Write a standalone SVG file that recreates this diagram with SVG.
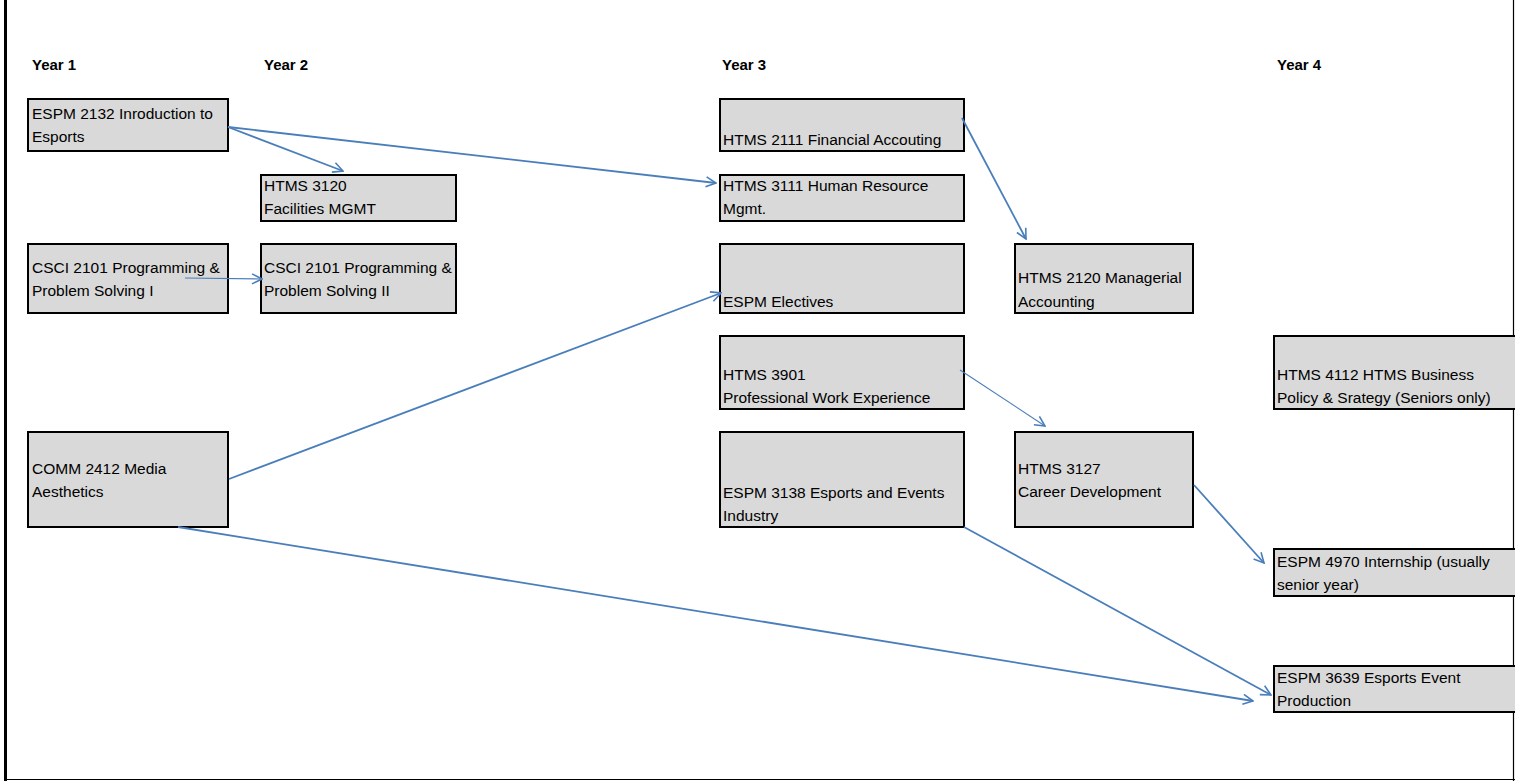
<svg xmlns="http://www.w3.org/2000/svg" width="1515" height="781" viewBox="0 0 1515 781">
<style>
.box{fill:#d9d9d9;stroke:#000;stroke-width:2}
.t{font-family:"Liberation Sans",Arial,sans-serif;font-size:15.5px;fill:#000}
.yr{font-family:"Liberation Sans",Arial,sans-serif;font-size:15px;font-weight:bold;fill:#000}
.c{fill:none;stroke:#4a7ebb;stroke-width:1.8;marker-end:url(#ah)}
.thin{stroke-width:1.1}
</style>
<defs>
<marker id="ah" viewBox="0 0 12 12" refX="11" refY="6" markerWidth="12" markerHeight="12" markerUnits="userSpaceOnUse" orient="auto">
<path d="M1,1 L11,6 L1,11" fill="none" stroke="#4a7ebb" stroke-width="1.6"/>
</marker>
</defs>
<rect x="0" y="0" width="1515" height="781" fill="#fff"/>
<g id="frame">
<line x1="5.5" y1="0" x2="5.5" y2="781" stroke="#000" stroke-width="3"/>
<line x1="4" y1="779.5" x2="1515" y2="779.5" stroke="#000" stroke-width="1.2"/>
<line x1="1513.5" y1="0" x2="1513.5" y2="781" stroke="#000" stroke-width="1.2"/>
</g>
<g id="years">
<text class="yr" x="32" y="70">Year 1</text>
<text class="yr" x="264" y="70">Year 2</text>
<text class="yr" x="722" y="70">Year 3</text>
<text class="yr" x="1277" y="70">Year 4</text>
</g>
<g id="espm2132"><rect class="box" x="28" y="99" width="200" height="52"/><text class="t" x="32" y="119">ESPM 2132 Inroduction to</text><text class="t" x="32" y="142">Esports</text></g>
<g id="htms3120"><rect class="box" x="261" y="175" width="195" height="46"/><text class="t" x="264" y="191">HTMS 3120</text><text class="t" x="264" y="214">Facilities MGMT</text></g>
<g id="csci2101a"><rect class="box" x="28" y="244" width="200" height="69"/><text class="t" x="32" y="273">CSCI 2101 Programming &amp;</text><text class="t" x="32" y="296">Problem Solving I</text></g>
<g id="csci2101b"><rect class="box" x="261" y="244" width="195" height="69"/><text class="t" x="264" y="273">CSCI 2101 Programming &amp;</text><text class="t" x="264" y="296">Problem Solving II</text></g>
<g id="comm2412"><rect class="box" x="28" y="432" width="200" height="95"/><text class="t" x="32" y="474">COMM 2412 Media</text><text class="t" x="32" y="497">Aesthetics</text></g>
<g id="htms2111"><rect class="box" x="720" y="99" width="244" height="52"/><text class="t" x="723" y="145">HTMS 2111 Financial Accouting</text></g>
<g id="htms3111"><rect class="box" x="720" y="175" width="244" height="46"/><text class="t" x="723" y="191">HTMS 3111 Human Resource</text><text class="t" x="723" y="214">Mgmt.</text></g>
<g id="espmelectives"><rect class="box" x="720" y="244" width="244" height="69"/><text class="t" x="723" y="307">ESPM Electives</text></g>
<g id="htms3901"><rect class="box" x="720" y="336" width="244" height="73"/><text class="t" x="723" y="380">HTMS 3901</text><text class="t" x="723" y="403">Professional Work Experience</text></g>
<g id="espm3138"><rect class="box" x="720" y="432" width="244" height="95"/><text class="t" x="723" y="498">ESPM 3138 Esports and Events</text><text class="t" x="723" y="521">Industry</text></g>
<g id="htms2120"><rect class="box" x="1015" y="244" width="178" height="69"/><text class="t" x="1018" y="283">HTMS 2120 Managerial</text><text class="t" x="1018" y="307">Accounting</text></g>
<g id="htms3127"><rect class="box" x="1015" y="432" width="178" height="95"/><text class="t" x="1018" y="474">HTMS 3127</text><text class="t" x="1018" y="497">Career Development</text></g>
<g id="htms4112"><rect class="box" x="1274" y="336" width="242" height="73"/><text class="t" x="1277" y="380">HTMS 4112 HTMS Business</text><text class="t" x="1277" y="403">Policy &amp; Srategy (Seniors only)</text></g>
<g id="espm4970"><rect class="box" x="1274" y="549" width="242" height="47"/><text class="t" x="1277" y="567">ESPM 4970 Internship (usually</text><text class="t" x="1277" y="590">senior year)</text></g>
<g id="espm3639"><rect class="box" x="1274" y="666" width="242" height="46"/><text class="t" x="1277" y="683">ESPM 3639 Esports Event</text><text class="t" x="1277" y="706">Production</text></g>
<g id="connectors">
<line class="c" x1="228" y1="127" x2="343" y2="171"/>
<line class="c" x1="228" y1="127" x2="716" y2="183"/>
<line class="c thin" x1="185" y1="278" x2="262" y2="279"/>
<line class="c" x1="962" y1="118" x2="1026" y2="239"/>
<line class="c" x1="229" y1="479" x2="721" y2="293"/>
<line class="c" x1="178" y1="527" x2="1253" y2="701"/>
<line class="c" x1="964" y1="527" x2="1271" y2="695"/>
<line class="c thin" x1="960" y1="370" x2="1045" y2="426"/>
<line class="c" x1="1194" y1="485" x2="1264" y2="563"/>
</g>
</svg>
